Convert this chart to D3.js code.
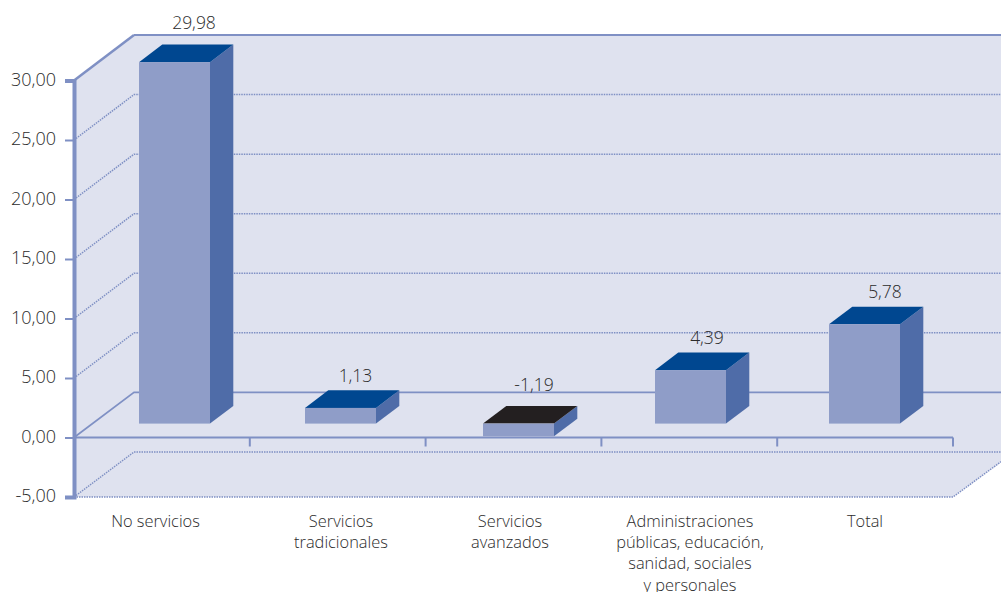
<!DOCTYPE html>
<html><head><meta charset="utf-8">
<script src="https://cdn.jsdelivr.net/npm/d3@7"></script>
<style>html,body{margin:0;padding:0;background:#fff;overflow:hidden}svg{display:block}text{font-family:"Open Sans",sans-serif;font-weight:300;fill:#2b2b2b}</style>
</head><body><svg id="c" width="1001" height="592"></svg>
<script>
const categories = ["No servicios","Servicios tradicionales","Servicios avanzados","Administraciones públicas, educación, sanidad, sociales y personales","Total"];
const categoryLines = [["No servicios"],["Servicios","tradicionales"],["Servicios","avanzados"],["Administraciones","públicas, educación,","sanidad, sociales","y personales"],["Total"]];
const valueLabels = ["29,98","1,13","-1,19","4,39","5,78"];
const drawnHeights = [30.37, 1.32, -1.07, 4.49, 8.35];
const tickValues = [-5,0,5,10,15,20,25,30];
const gridValues = [5,10,15,20,25];

const svg = d3.select("#c");
const depthX = 60;
const barDepthX = 23.3, barDepthY = -17.6, barW = 71, planeLift = 13.9;
const y = d3.scaleLinear().domain([-5,30]).range([497,80.5]);
const yBack = d3.scaleLinear().domain([-5,30]).range([452,35]);
const band = d3.scaleBand().domain(categories).range([74,953]);
const barLeft = d3.scaleOrdinal().domain(categories).range([139,305,483,655,829]);
const labelCx = d3.scaleOrdinal().domain(categories).range([155.5,341,510,690,865]);
const valueCx = d3.scaleOrdinal().domain(categories).range([194,355.5,534,707,885]);
const valueGap = d3.scaleOrdinal().domain(categories).range([22,14,21,15,15]);
const axisC = "#7f90c4";

// wall
const x0 = 74, xE = 953, xR = 1001;
const slopeEnd = 461.7;
svg.append("path").attr("fill","#dfe2ef")
  .attr("d",`M${x0},${y(30)}L${x0+depthX},${yBack(30)}L${xR},${yBack(30)}L${xR},${slopeEnd}L${xE},${y(-5)}L${x0},${y(-5)}Z`);

// dotted grid
const dotted = (g)=>g.attr("fill","none").attr("stroke",axisC).attr("stroke-width",1.5).attr("stroke-dasharray","1.5 1");
svg.append("g").selectAll("path").data(gridValues.concat([-5])).join("path").call(dotted)
  .attr("d",v=>`M${x0},${y(v)}L${x0+depthX},${yBack(v)}L${xR},${yBack(v)}`);
svg.append("path").call(dotted).attr("d",`M${x0},${y(-5)}L${xE},${y(-5)}L${xR},${slopeEnd}`);

// solid structural lines
svg.append("path").attr("fill","none").attr("stroke",axisC).attr("stroke-width",2.5)
  .attr("d",`M${x0},${y(30)}L${x0+depthX},${yBack(30)}`);
svg.append("path").attr("fill","none").attr("stroke",axisC).attr("stroke-width",2)
  .attr("d",`M${x0+depthX},${yBack(30)}L${xR},${yBack(30)}`);
svg.append("path").attr("fill","none").attr("stroke",axisC).attr("stroke-width",1.7)
  .attr("d",`M${x0},${y(0)}L${x0+depthX},${yBack(0)}L${xR},${yBack(0)}`);

// x axis baseline and ticks
svg.append("line").attr("x1",x0).attr("x2",xE).attr("y1",y(0)).attr("y2",y(0)).attr("stroke",axisC).attr("stroke-width",2);
svg.append("g").selectAll("line").data(categories.slice(0)).join("line")
  .attr("x1",d=>band(d)+band.step()).attr("x2",d=>band(d)+band.step())
  .attr("y1",y(0)).attr("y2",y(0)+9).attr("stroke",axisC).attr("stroke-width",2);

// y axis
const yAxis = d3.axisLeft(y).tickValues(tickValues).tickSize(9).tickPadding(9)
  .tickFormat(v=>v.toFixed(2).replace(".",","));
const ax = svg.append("g").attr("transform",`translate(${x0},0)`).call(yAxis);
ax.select(".domain").attr("stroke",axisC).attr("stroke-width",4);
ax.selectAll(".tick line").attr("stroke",axisC).attr("stroke-width",2);
ax.selectAll("text").attr("fill","#2b2b2b").attr("y",-1).style("font-size","18px").style("font-family",'"Open Sans",sans-serif').style("font-weight",300);

// bars
const base = y(0) - planeLift;
const pxH = v => y(0) - y(v);
const bars = svg.append("g").selectAll("g").data(categories.map((c,i)=>({c,h:drawnHeights[i],i}))).join("g");
bars.each(function(d){
  const g = d3.select(this), l = barLeft(d.c), r = l + barW;
  const top = d.h >= 0 ? base - pxH(d.h) : base;
  const bot = d.h >= 0 ? base : base - pxH(d.h);
  g.append("path").attr("fill","#4f6ca8").attr("d",`M${r},${top}L${r+barDepthX},${top+barDepthY}L${r+barDepthX},${bot+barDepthY}L${r},${bot}Z`);
  g.append("path").attr("fill",d.h>=0?"#004790":"#231f20").attr("d",`M${l},${top}L${l+barDepthX},${top+barDepthY}L${r+barDepthX},${top+barDepthY}L${r},${top}Z`);
  g.append("rect").attr("x",l).attr("y",top).attr("width",barW).attr("height",bot-top).attr("fill","#8f9dc8");
  g.append("text").attr("x",valueCx(d.c)).attr("y",top+barDepthY-valueGap(d.c)+6).attr("text-anchor","middle").attr("font-size",17.5).text(valueLabels[d.i]);
});

// category labels
categories.forEach((c,i)=>{
  const t = svg.append("text").attr("text-anchor","middle").attr("font-size",16.4);
  categoryLines[i].forEach((s,k)=>t.append("tspan").attr("x",labelCx(c)).attr("y",526.5+k*21.4).text(s));
});
</script></body></html>
